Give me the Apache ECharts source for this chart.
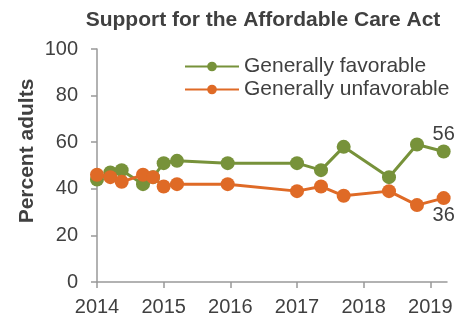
<!DOCTYPE html>
<html><head><meta charset="utf-8">
<script src="https://cdn.jsdelivr.net/npm/echarts@6/dist/echarts.min.js"></script>
<style>html,body{margin:0;padding:0;background:#fff}#c{width:461px;height:320px}</style>
</head><body><div id="c"></div>
<script>
const title = 'Support for the Affordable Care Act';
const yAxisTitle = 'Percent adults';
const seriesNames = ['Generally favorable', 'Generally unfavorable'];
const dates = [2014.0, 2014.2, 2014.37, 2014.69, 2014.84, 2015.0, 2015.2, 2015.96, 2017.0, 2017.36, 2017.7, 2018.38, 2018.8, 2019.2];
const favorable = [44, 47, 48, 42, 45, 51, 52, 51, 51, 48, 58, 45, 59, 56];
const unfavorable = [46, 45, 43, 46, 45, 41, 42, 42, 39, 41, 37, 39, 33, 36];
const xTicks = [2014, 2015, 2016, 2017, 2018, 2019];
const yTicks = [0, 20, 40, 60, 80, 100];

const FONT = '"Liberation Sans", Arial, sans-serif';
const TXT = '#404040';
const colors = ['#77923A', '#DF6A26'];
function pts(vals){ return vals.map((v,i)=>[dates[i], v]); }
function mk(name, vals, color, pos){
  const d = pts(vals);
  const last = d.length - 1;
  return {
    name, type:'line', data: d.map((p,i)=> i===last ? {value:p, label:{show:true, position:pos, formatter:String(p[1]), distance:0}} : p),
    symbol:'circle', symbolSize:14, color,
    lineStyle:{width:3, color}, itemStyle:{color},
    label:{show:false, fontFamily:FONT, fontSize:20, color:TXT},
    emphasis:{disabled:true}, z: 2
  };
}
const chart = echarts.init(document.getElementById('c'), null, {renderer:'canvas'});
chart.setOption({
  animation:false,
  title:{text:title, left:258, top:5, textAlign:'center', textStyle:{fontFamily:FONT, fontSize:21, fontWeight:'bold', color:TXT}},
  legend:{top:51, left:179, orient:'vertical', itemWidth:54, itemHeight:12, itemGap:2,
    textStyle:{fontFamily:FONT, fontSize:21, lineHeight:21, color:TXT}, data:seriesNames},
  graphic:[{type:'text', x:27, y:151, rotation:Math.PI/2,
    style:{text:yAxisTitle, fontFamily:FONT, fontSize:21, fontWeight:'bold', fill:TXT, textAlign:'center', textVerticalAlign:'middle'}}],
  grid:{left:97, right:14, top:49, bottom:38},
  xAxis:{type:'value', min:2014, max:2019.25,
    axisLine:{lineStyle:{color:'#999', width:1.5}},
    axisTick:{show:true, length:6, lineStyle:{color:'#999', width:1.5}, customValues: xTicks},
    axisLabel:{fontFamily:FONT, fontSize:20, color:TXT, margin:15, customValues: xTicks, formatter:v=>String(v)},
    splitLine:{show:false}},
  yAxis:{type:'value', min:0, max:100, interval:20,
    axisLine:{show:true, lineStyle:{color:'#999', width:1.5}},
    axisTick:{show:true, length:6, lineStyle:{color:'#999', width:1.5}},
    axisLabel:{fontFamily:FONT, fontSize:20, color:TXT, margin:19, customValues: yTicks},
    splitLine:{show:false}},
  series:[mk(seriesNames[0], favorable, colors[0], 'top'), mk(seriesNames[1], unfavorable, colors[1], 'bottom')]
});
</script></body></html>
